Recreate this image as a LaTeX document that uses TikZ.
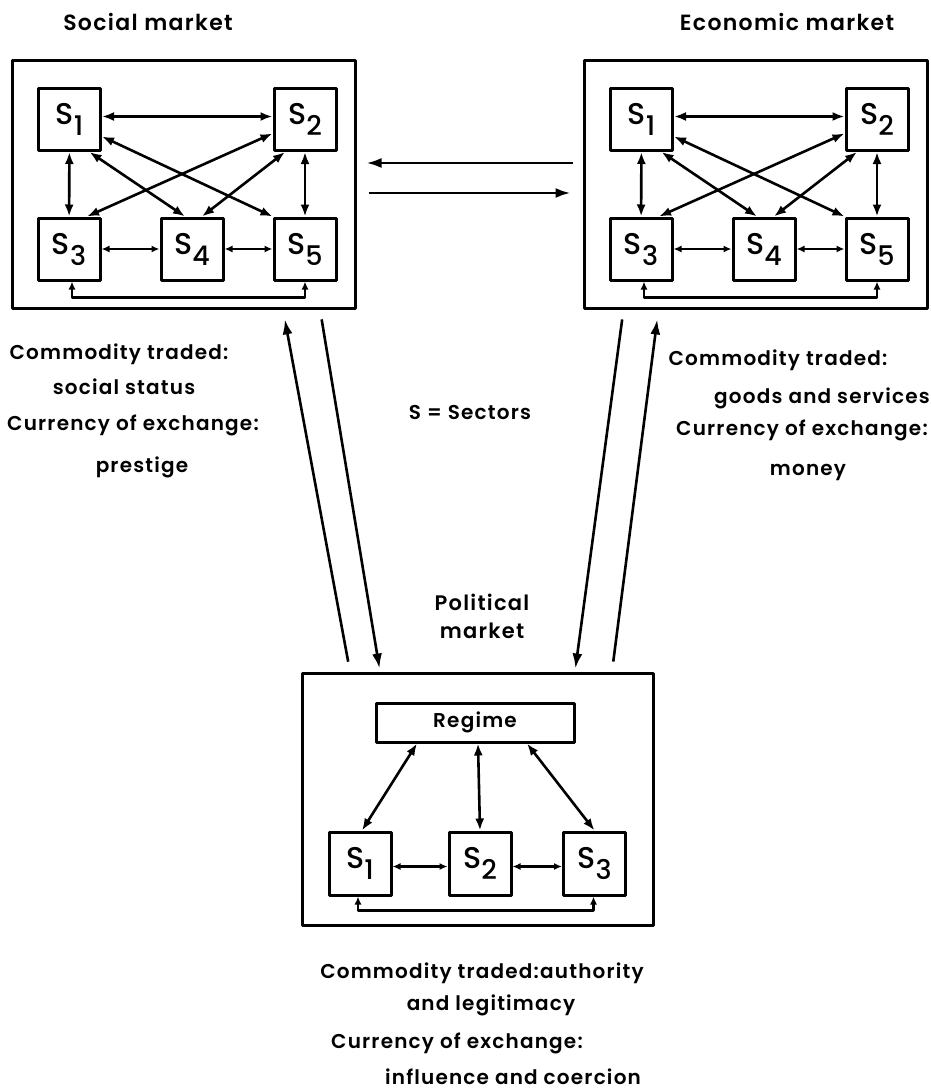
\documentclass[tikz,border=0pt]{standalone}
\usepackage{fontspec}
\setmainfont{Poppins}[UprightFont={* SemiBold},LetterSpace=6]
\newfontfamily\sectfont{Poppins}[UprightFont={* Medium}]
\usetikzlibrary{arrows.meta}

% sector label with a lowered index
\newcommand{\sect}[1]{S\raisebox{-11pt}{\fontsize{27}{27}\selectfont #1}}

\begin{document}
\begin{tikzpicture}[x=1pt,y=-1pt, line join=round,
  lbl/.style={font=\fontsize{20}{22}\selectfont},
  market/.style={draw,line width=3pt,inner sep=0pt},
  sector/.style={draw,line width=3pt,minimum width=62pt,minimum height=62pt,
    inner sep=0pt,font=\sectfont\fontsize{30}{30}\selectfont},
  link/.style={line width=2.6pt,{Latex[length=12pt,width=9pt]}-{Latex[length=12pt,width=9pt]}},
  shortlink/.style={line width=2.2pt,{Latex[length=8pt,width=7pt]}-{Latex[length=8pt,width=7pt]}},
  flow/.style={line width=2.6pt,-{Latex[length=15pt,width=10pt]}}]
\useasboundingbox (0,0) rectangle (930,1092);

% social and economic markets: same five sectors
\foreach \m/\dx in {soc/0,eco/572}{
\begin{scope}[xshift=\dx, name prefix=\m-]
\node[market,minimum width=343pt,minimum height=248pt] (box) at (183.5,184) {};
\node[sector] (s1) at (69.5,119.5) {\sect{1}};
\node[sector] (s2) at (305,119.5) {\sect{2}};
\node[sector] (s3) at (69,249) {\sect{3}};
\node[sector] (s4) at (192,249) {\sect{4}};
\node[sector] (s5) at (305,249) {\sect{5}};
\draw[link] ([yshift=3pt]s1.east) -- ([yshift=3pt]s2.west);
\draw[link] (s1) -- (s3);
\draw[link] (s2) -- (s5);
\draw[shortlink] (s3) -- (s4);
\draw[shortlink] (s4) -- (s5);
\draw[link] ([yshift=-17pt]s1.east) -- (s5.north west);
\draw[link] ([xshift=20pt]s1.south) -- ([xshift=-7pt]s4.north);
\draw[link] ([yshift=-14pt]s2.west) -- ([xshift=18pt]s3.north);
\draw[link] ([xshift=-20pt]s2.south) -- ([xshift=10pt]s4.north);
\draw[shortlink] ([xshift=3pt]s3.south) -- ++(0,16) -| (s5.south);
\end{scope}
}

\node[lbl,font=\fontsize{22}{24}\selectfont] (soc-title) at (148,22) {Social market};
\node[lbl,font=\fontsize{22}{24}\selectfont] (eco-title) at (787,22) {Economic market};

% trade between the two upper markets
\draw[flow,shorten <=10pt,shorten >=10pt] ([yshift=21pt]eco-box.west) -- ([yshift=21pt]soc-box.east);
\draw[flow,shorten <=12pt,shorten >=12pt] ([yshift=-9pt]soc-box.east) -- ([yshift=-9pt]eco-box.west);

% political market
\node[lbl,align=center,font=\fontsize{21}{28}\selectfont] (pol-title) at (482,616) {Political\\market};
\node[market,minimum width=351pt,minimum height=252pt] (pol-box) at (477.5,799) {};
\node[draw,line width=3pt,minimum width=198pt,minimum height=39pt,inner sep=0pt,
  font=\fontsize{20}{20}\selectfont] (regime) at (475,722.5) {Regime};
\node[sector,minimum height=63pt] (p1) at (360,863.5) {\sect{1}};
\node[sector,minimum height=63pt] (p2) at (480,863.5) {\sect{2}};
\node[sector,minimum height=63pt] (p3) at (594.5,863.5) {\sect{3}};
\draw[link] ([xshift=-58pt]regime.south) -- ([xshift=2pt]p1.north);
\draw[link] ([xshift=3pt]regime.south) -- (p2.north);
\draw[link] ([xshift=52pt]regime.south) -- (p3.north);
\draw[shortlink] ([yshift=-3pt]p1.east) -- ([yshift=-3pt]p2.west);
\draw[shortlink] ([yshift=-3pt]p2.east) -- ([yshift=-3pt]p3.west);
\draw[shortlink] ([xshift=-2pt]p1.south) -- ++(0,14) -| ([xshift=-1pt]p3.south);

% exchanges with the political market
\draw[flow,shorten <=10pt,shorten >=10pt] ([xshift=-127.5pt]pol-box.north) -- ([xshift=99.5pt]soc-box.south);
\draw[flow,shorten <=10pt,shorten >=3pt] ([xshift=136.5pt]soc-box.south) -- ([xshift=-97.5pt]pol-box.north);
\draw[flow,shorten <=10pt,shorten >=3pt] ([xshift=-132pt]eco-box.south) -- ([xshift=97.5pt]pol-box.north);
\draw[flow,shorten <=10pt,shorten >=10pt] ([xshift=134.5pt]pol-box.north) -- ([xshift=-97pt]eco-box.south);

% what each market trades
\node[lbl] (soc-c1) at (119,354) {Commodity traded:};
\node[lbl] (soc-c2) at (124,387) {social status};
\node[lbl] (soc-c3) at (133,425) {Currency of exchange:};
\node[lbl] (soc-c4) at (142,467) {prestige};
\node[lbl] (eco-c1) at (778,360) {Commodity traded:};
\node[lbl] (eco-c2) at (822,398) {goods and services};
\node[lbl] (eco-c3) at (802,430) {Currency of exchange:};
\node[lbl] (eco-c4) at (808,472) {money};
\node[lbl] (key) at (470,413) {S = Sectors};
\node[lbl] (pol-c1) at (482,973) {Commodity traded:authority};
\node[lbl] (pol-c2) at (491,1005) {and legitimacy};
\node[lbl] (pol-c3) at (457,1043) {Currency of exchange:};
\node[lbl] (pol-c4) at (513,1077) {influence and coercion};
\end{tikzpicture}
\end{document}
